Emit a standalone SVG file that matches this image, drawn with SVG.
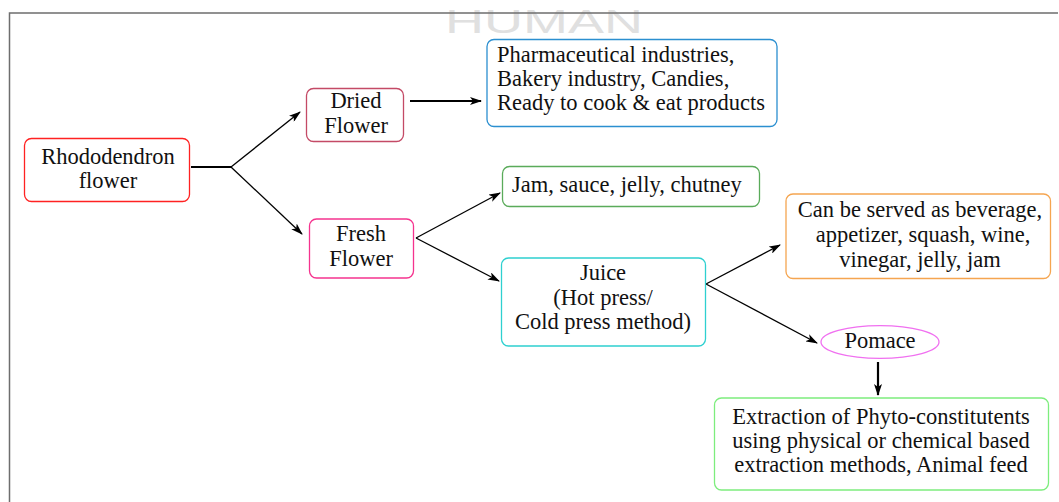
<svg xmlns="http://www.w3.org/2000/svg" width="1059" height="502" viewBox="0 0 1059 502">
<defs>
<style>
.t{font-family:"Liberation Serif","Times New Roman",serif;font-size:22.5px;fill:#111;}
.m{text-anchor:middle;}
.box{fill:#fff;stroke-width:1.3;}
.c{stroke:#000;stroke-width:1.3;fill:none;}
.ck{stroke:#000;stroke-width:2.2;fill:none;}
</style>
<marker id="ah" viewBox="0 0 12 8" refX="11" refY="4" markerWidth="12" markerHeight="8" markerUnits="userSpaceOnUse" orient="auto">
<path d="M0,0 L12,4 L0,8 L3,4 z" fill="#000"/>
</marker>
</defs>
<rect x="0" y="0" width="1059" height="502" fill="#fff"/>
<text x="445" y="33" font-family="Liberation Sans, Arial, sans-serif" font-size="34" fill="#e0e0e0" textLength="198" lengthAdjust="spacingAndGlyphs">HUMAN</text>
<g id="frame">
<path d="M9.5,502 V13 H1058" fill="none" stroke="#6e6e6e" stroke-width="1.5"/>
</g>
<g id="connectors">
<path class="ck" d="M191,167 H231"/>
<path class="c" d="M231,167 L300,112" marker-end="url(#ah)"/>
<path class="c" d="M231,167 L302,234" marker-end="url(#ah)"/>
<path class="ck" d="M410,101 H481" marker-end="url(#ah)"/>
<path class="c" d="M416,238 L500,193" marker-end="url(#ah)"/>
<path class="c" d="M416,238 L499,281" marker-end="url(#ah)"/>
<path class="c" d="M706,284 L780,245" marker-end="url(#ah)"/>
<path class="c" d="M706,284 L817,343" marker-end="url(#ah)"/>
<path class="ck" d="M878,362 V395" marker-end="url(#ah)"/>
</g>
<g id="rhododendron">
<rect class="box" x="24.5" y="138.5" width="165" height="63" rx="7" stroke="#f22"/>
<text class="t m" x="108" y="164">Rhododendron</text>
<text class="t m" x="108" y="188">flower</text>
</g>
<g id="dried">
<rect class="box" x="306.5" y="88.5" width="97" height="53" rx="7" stroke="#c44a66"/>
<text class="t m" x="356" y="108">Dried</text>
<text class="t m" x="356" y="133">Flower</text>
</g>
<g id="fresh">
<rect class="box" x="309.5" y="219" width="104" height="59" rx="7" stroke="#f5338e"/>
<text class="t m" x="361" y="241">Fresh</text>
<text class="t m" x="361" y="266">Flower</text>
</g>
<g id="pharma">
<rect class="box" x="487" y="39.5" width="290" height="87" rx="7" stroke="#2b8fd0"/>
<text class="t" x="497" y="62">Pharmaceutical industries,</text>
<text class="t" x="497" y="86">Bakery industry, Candies,</text>
<text class="t" x="497" y="110">Ready to cook &amp; eat products</text>
</g>
<g id="jam">
<rect class="box" x="502.5" y="166.5" width="257" height="40" rx="7" stroke="#5aab5a"/>
<text class="t" x="512" y="192">Jam, sauce, jelly, chutney</text>
</g>
<g id="juice">
<rect class="box" x="501.5" y="258" width="204" height="88" rx="7" stroke="#2ed0d0"/>
<text class="t m" x="603" y="280">Juice</text>
<text class="t m" x="603" y="305">(Hot press/</text>
<text class="t m" x="603" y="329">Cold press method)</text>
</g>
<g id="beverage">
<rect class="box" x="786" y="194" width="264.5" height="84.5" rx="7" stroke="#f5a550"/>
<text class="t m" x="920" y="217">Can be served as beverage,</text>
<text class="t m" x="923" y="242">appetizer, squash, wine,</text>
<text class="t m" x="920" y="267">vinegar, jelly, jam</text>
</g>
<g id="pomace">
<ellipse cx="880" cy="342" rx="59" ry="16.3" fill="#fff" stroke="#f070f0" stroke-width="1.3"/>
<text class="t m" x="880" y="348">Pomace</text>
</g>
<g id="extraction">
<rect class="box" x="714.5" y="398" width="334" height="92" rx="7" stroke="#7ded7d"/>
<text class="t m" x="881" y="424">Extraction of Phyto-constitutents</text>
<text class="t m" x="881" y="448">using physical or chemical based</text>
<text class="t m" x="881" y="472">extraction methods, Animal feed</text>
</g>
</svg>
